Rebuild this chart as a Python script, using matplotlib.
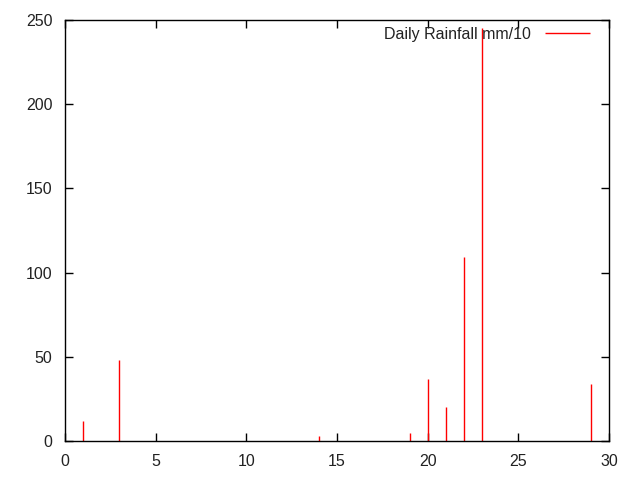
import matplotlib
matplotlib.use("Agg")
import matplotlib.pyplot as plt

# Daily rainfall (mm/10) by day of month
days = [1, 3, 14, 19, 20, 21, 22, 23, 29]
rainfall = [12, 48, 3, 5, 37, 20, 109, 245, 34]

plt.rcParams['font.family'] = ['Liberation Sans', 'DejaVu Sans']
text_color = '#222222'

fig = plt.figure(figsize=(6.4, 4.8), dpi=100)
ax = fig.add_axes([65 / 640, 39 / 480, 544 / 640, 421 / 480])

ax.vlines(days, 0, rainfall, colors='#ff0000', linewidth=1, label='Daily Rainfall mm/10')

ax.set_xlim(0, 30)
ax.set_ylim(0, 250)
ax.set_xticks(range(0, 31, 5))
ax.set_yticks(range(0, 251, 50))
ax.tick_params(direction='in', length=6, width=1, top=True, right=True,
               labelsize=11.5, labelcolor=text_color, color='black')
ax.tick_params(axis='x', pad=9)
ax.tick_params(axis='y', pad=9)
for s in ax.spines.values():
    s.set_linewidth(1)

leg = ax.legend(loc='upper right', frameon=False, markerfirst=False, fontsize=11.5,
                handlelength=2.8, handletextpad=0.9, borderpad=0, borderaxespad=0,
                bbox_to_anchor=(590 / 640, 453 / 480), bbox_transform=fig.transFigure)
for t in leg.get_texts():
    t.set_color(text_color)

fig.savefig('out.png', dpi=100)
